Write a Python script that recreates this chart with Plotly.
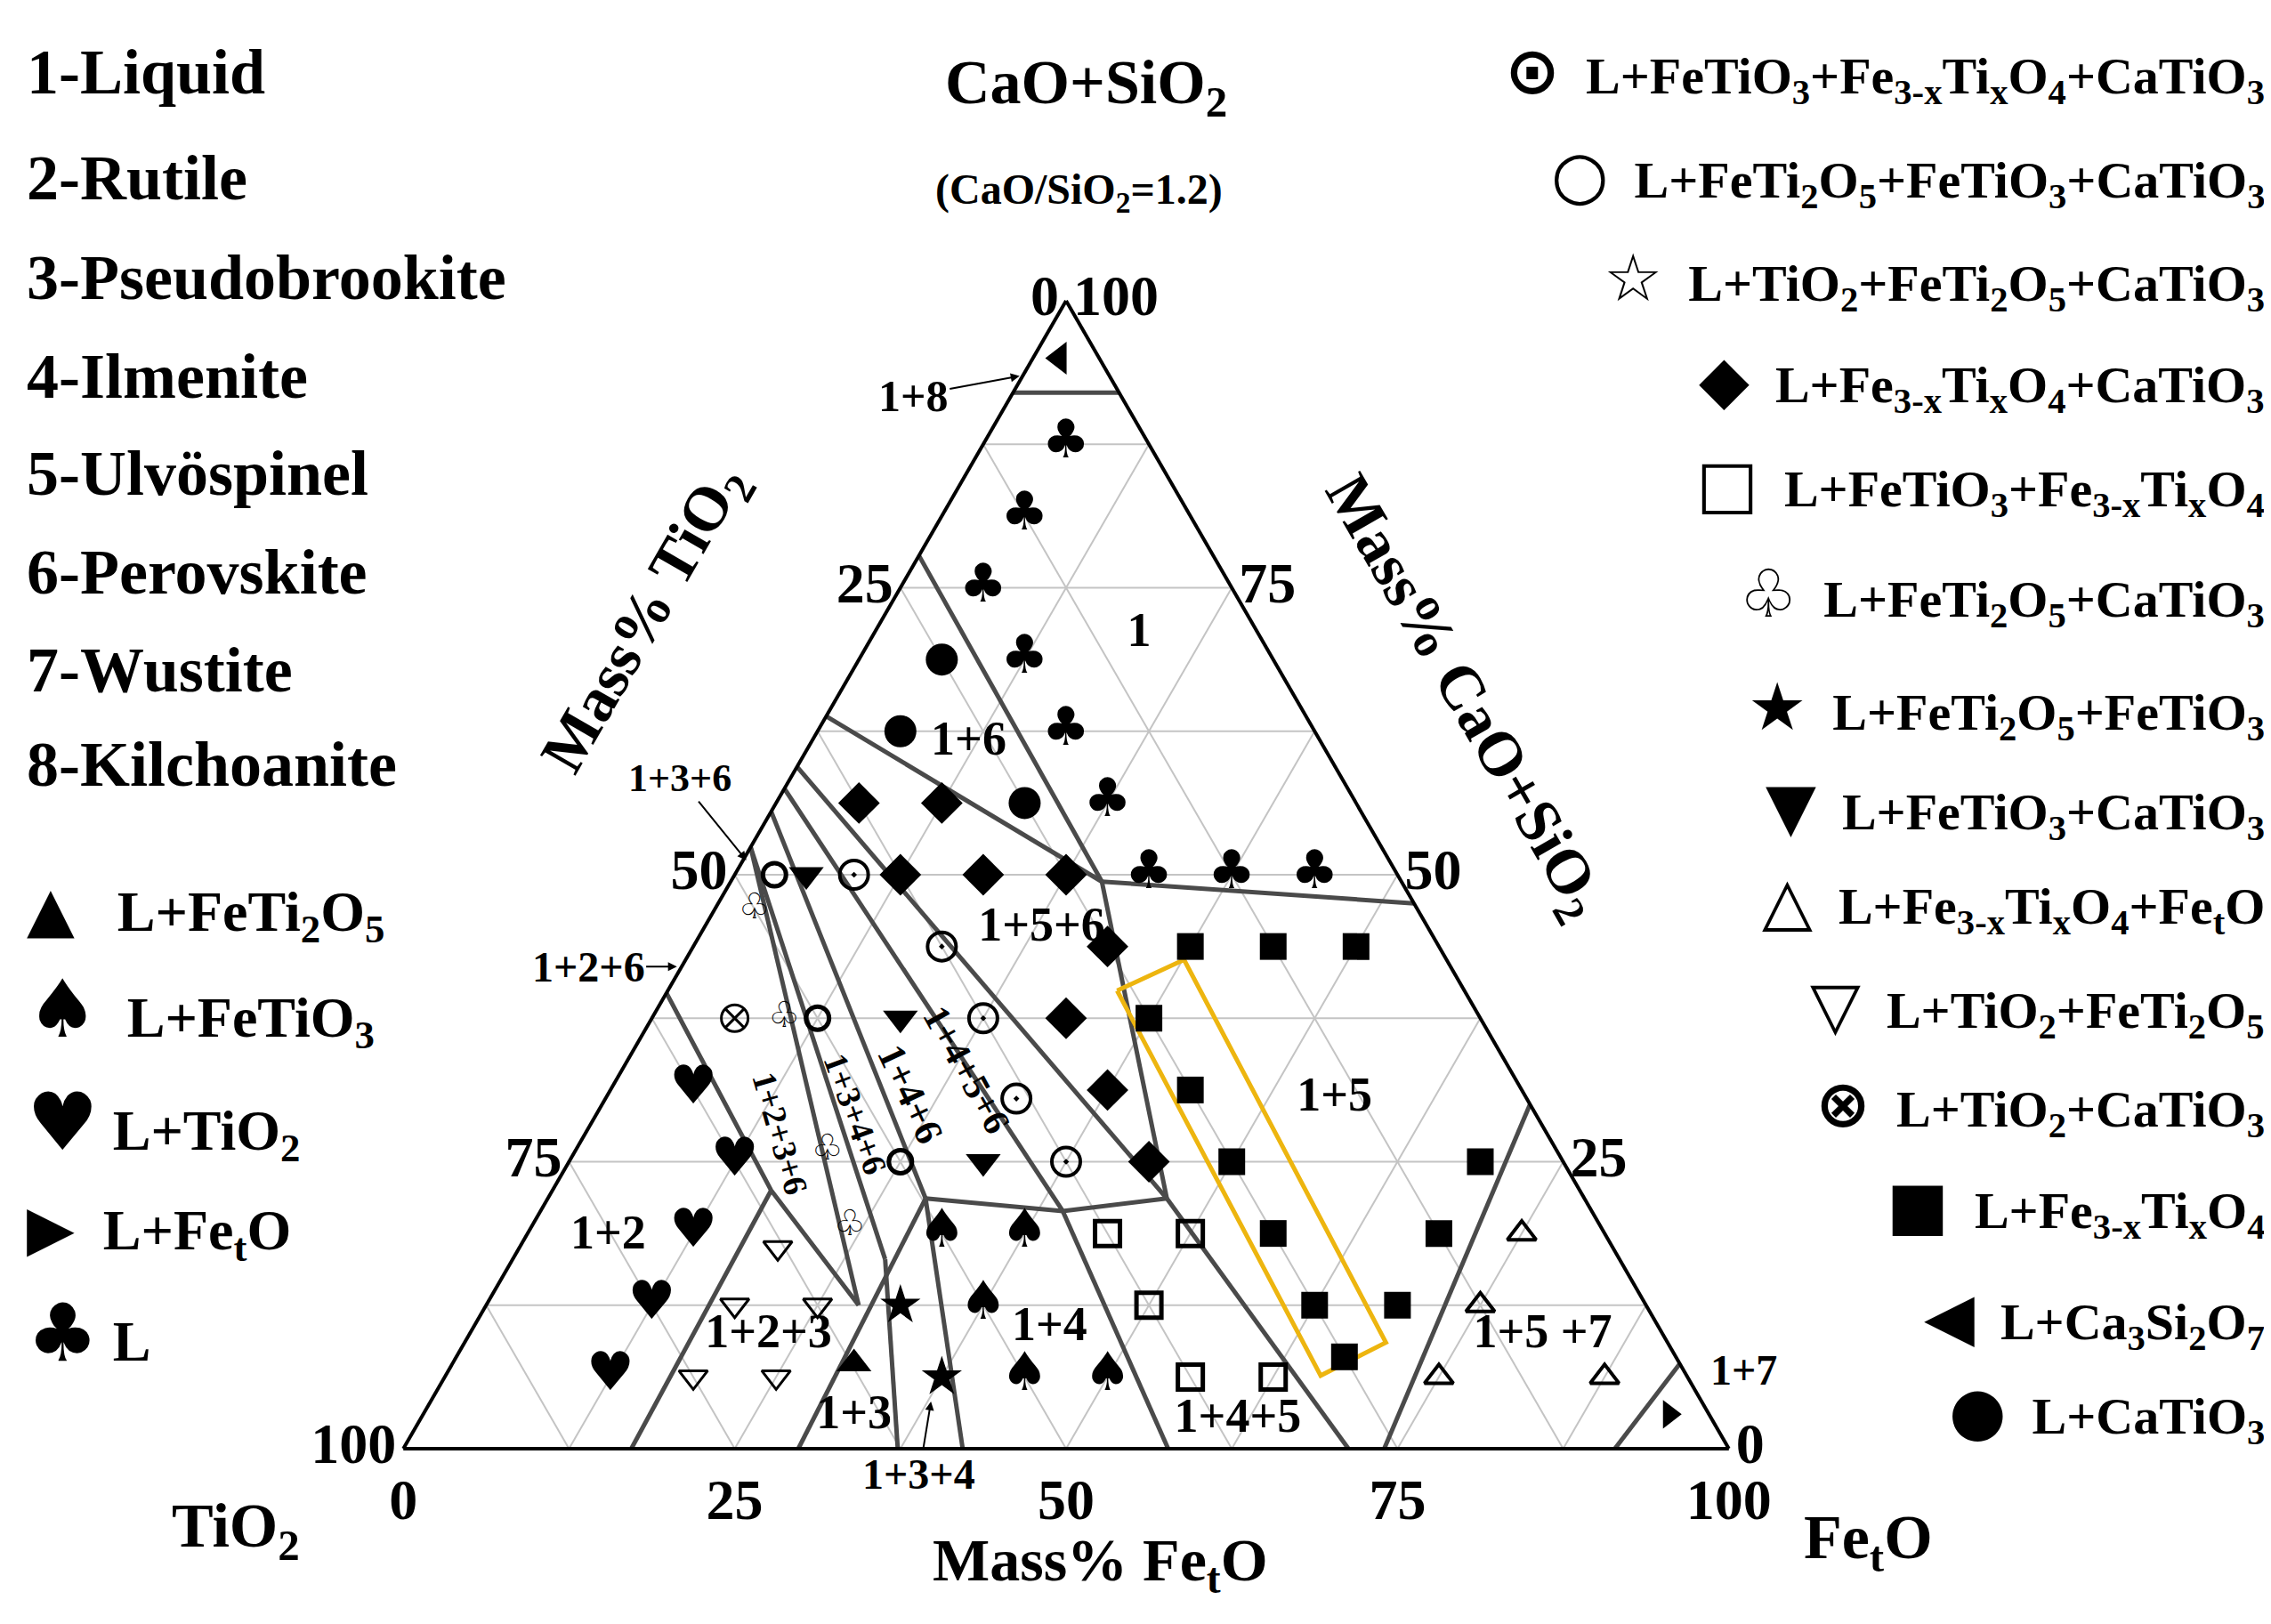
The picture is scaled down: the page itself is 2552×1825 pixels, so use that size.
import plotly.graph_objects as go

# compositions as (CaO+SiO2, TiO2, FetO) mass %
liquid = [(87.5, 6.25, 6.25), (81.25, 12.5, 6.25), (75, 18.75, 6.25), (68.75, 18.75, 12.5),
          (62.5, 18.75, 18.75), (56.25, 18.75, 25), (50, 18.75, 31.25), (50, 12.5, 37.5), (50, 6.25, 43.75)]
l_catio3 = [(68.75, 25, 6.25), (62.5, 31.25, 6.25), (56.25, 25, 18.75)]
l_ca3si2o7 = [(95, 3, 2)]
l_spinel_cati = [(56.25, 37.5, 6.25), (56.25, 31.25, 12.5), (50, 37.5, 12.5), (50, 31.25, 18.75), (50, 25, 25),
                 (43.75, 25, 31.25), (37.5, 31.25, 31.25), (31.25, 31.25, 37.5), (25, 31.25, 43.75)]
l_ilm_spinel_cati = [(50, 41, 9), (43.75, 37.5, 18.75), (37.5, 37.5, 25), (30.5, 38.5, 31), (25, 37.5, 37.5)]
l_pb_ilm_cati = [(50, 47, 3), (37.5, 50, 12.5), (25, 50, 25)]
l_ilm_cati = [(50, 44.6, 5.4), (37.5, 43.75, 18.75), (25, 43.75, 31.25)]
l_rut_cati = [(37.5, 56.25, 6.25)]
l_pb_cati = [(47, 50, 3), (37.5, 52.5, 10), (26, 55, 19), (19.4, 56.6, 24)]
l_rutile = [(31.25, 62.5, 6.25), (25, 62.5, 12.5), (18.75, 68.75, 12.5), (12.5, 75, 12.5), (6.25, 81.25, 12.5)]
l_rut_pb = [(17.5, 63, 19.5), (12.5, 68.75, 18.75), (12.5, 62.5, 25), (6.25, 75, 18.75), (6.25, 68.75, 25)]
l_pb = [(7.4, 62.3, 30.3)]
l_pb_ilm = [(12.5, 56.25, 31.25), (6.25, 56.25, 37.5)]
l_ilm = [(18.75, 50, 31.25), (18.75, 43.75, 37.5), (12.5, 50, 37.5), (6.25, 50, 43.75), (6.25, 43.75, 50)]
l_ilm_spinel = [(18.75, 37.5, 43.75), (18.75, 31.25, 50), (12.5, 37.5, 50), (6.25, 37.5, 56.25), (6.25, 31.25, 62.5)]
l_spinel = [(43.75, 18.75, 37.5), (43.75, 12.5, 43.75), (43.75, 6.25, 50), (37.5, 25, 37.5), (31.25, 25, 43.75),
            (25, 25, 50), (25, 6.25, 68.75), (18.75, 25, 56.25), (18.75, 12.5, 68.75), (12.5, 25, 62.5),
            (12.5, 18.75, 68.75), (8, 25, 67)]
l_spinel_wus = [(18.75, 6.25, 75), (12.5, 12.5, 75), (6.25, 18.75, 75), (6.25, 6.25, 87.5)]
l_wustite = [(3, 3, 94)]

boundaries = [
    [(92, 8, 0), (92, 0, 8)],
    [(77.8, 22.2, 0), (49.4, 22.6, 28)],
    [(49.4, 22.6, 28), (47.5, 0, 52.5)],
    [(63.8, 36.2, 0), (49.4, 22.6, 28)],
    [(49.4, 22.6, 28), (21.8, 31.5, 46.7)],
    [(59.4, 40.6, 0), (21.8, 31.5, 46.7)],
    [(57.5, 42.5, 0), (20.7, 39.9, 39.4)],
    [(55.5, 44.5, 0), (21.8, 49.7, 28.5)],
    [(52.4, 47.6, 0), (16.5, 55.4, 28.1)],
    [(52.4, 47.6, 0), (12.5, 59.4, 28.1)],
    [(39.7, 60.3, 0), (22.5, 61, 16.5), (12.5, 59.4, 28.1)],
    [(21.8, 49.7, 28.5), (20.7, 39.9, 39.4), (21.8, 31.5, 46.7)],
    [(0, 82.8, 17.2), (22.5, 61, 16.5)],
    [(0, 70.2, 29.8), (21.8, 49.7, 28.5)],
    [(0, 62.7, 37.3), (16.5, 55.4, 28.1)],
    [(0, 57.8, 42.2), (21.8, 49.7, 28.5)],
    [(0, 42.3, 57.7), (20.7, 39.9, 39.4)],
    [(0, 28.7, 71.3), (21.8, 31.5, 46.7)],
    [(0, 26, 74), (30, 0, 70)],
    [(0, 8.6, 91.4), (7.4, 0, 92.6)],
]
highlight = [(39.9, 26.2, 33.9), (42.6, 19.8, 37.6), (9.25, 21.25, 69.5), (6.37, 27.6, 66), (39.9, 26.2, 33.9)]

region_names = ["1", "1+6", "1+5+6", "1+5", "1+2", "1+2+3", "1+4", "1+3", "1+4+5", "1+5 +7"]
region_pos = [(71, 9, 20), (61.5, 26.6, 11.9), (45.3, 29.2, 25.5), (30.5, 14.5, 55), (18.5, 75.3, 6.2),
              (9.9, 67.5, 22.6), (10.5, 46, 43.5), (2.8, 64.6, 32.6), (2.5, 35.8, 61.7), (9.9, 9.1, 81)]

SERIF = "Liberation Serif, DejaVu Serif, DejaVu Sans"
SYM = "DejaVu Sans"
S = 2552 / 1568
X0, X1, YB, YT = 445, 1935, 1620, 330   # triangle frame in page pixels


def abc(pts):
    return dict(a=[p[0] for p in pts], b=[p[1] for p in pts], c=[p[2] for p in pts])


def to_paper(x, y, plot=True):
    X, Y = x * S, y * S
    if plot:
        X = X0 + (X - 460) * (X1 - X0) / 1461
        Y = YB - (1620 - Y) * (YB - YT) / 1319
    return X / 2552, 1 - Y / 1825


fig = go.Figure()

la, lb, lc = [], [], []
for seg in boundaries:
    for p in seg:
        la.append(p[0]); lb.append(p[1]); lc.append(p[2])
    la.append(None); lb.append(None); lc.append(None)
fig.add_trace(go.Scatterternary(a=la, b=lb, c=lc, mode="lines", connectgaps=False,
                                line=dict(color="#4a4a4a", width=5), hoverinfo="skip"))
fig.add_trace(go.Scatterternary(**abc(highlight), mode="lines", line=dict(color="#EDB50F", width=5)))

markers = [
    (l_catio3, "circle", 36, 0),
    (l_ca3si2o7, "triangle-left", 32, 0),
    (l_spinel_cati, "diamond", 36, 0),
    (l_ilm_spinel_cati, "circle-open-dot", 32, 4),
    (l_pb_ilm_cati, "circle-open", 26, 5),
    (l_ilm_cati, "triangle-down", 34, 0),
    (l_rut_cati, "circle-x-open", 30, 3),
    (l_rut_pb, "triangle-down-open", 28, 3),
    (l_pb, "triangle-up", 34, 0),
    (l_pb_ilm, "star", 34, 0),
    (l_ilm_spinel, "square-open", 28, 5),
    (l_spinel, "square", 30, 0),
    (l_spinel_wus, "triangle-up-open", 28, 4),
    (l_wustite, "triangle-right", 28, 0),
]
for pts, sym, size, lw in markers:
    fig.add_trace(go.Scatterternary(**abc(pts), mode="markers",
                                    marker=dict(symbol=sym, size=size, color="black",
                                                line=dict(color="black", width=lw))))

glyphs = [(liquid, "♣", 60), (l_rutile, "♥", 60), (l_ilm, "♠", 60), (l_pb_cati, "♧", 40)]
for pts, g, size in glyphs:
    fig.add_trace(go.Scatterternary(**abc(pts), mode="text", text=[g] * len(pts),
                                    textfont=dict(family=SYM, size=size, color="black")))

fig.add_trace(go.Scatterternary(**abc(region_pos), mode="text", text=region_names,
                                textfont=dict(family=SERIF, size=54, color="black", weight="bold")))

grid_vals = [0, 12.5, 25, 37.5, 50, 62.5, 75, 87.5, 100]
grid_text = ["<b>100</b>", "", "<b>75</b>", "", "<b>50</b>", "", "<b>25</b>", "", "<b>0</b>"]
axis_style = dict(tickmode="array", tickvals=grid_vals, ticktext=grid_text, ticks="",
                  tickfont=dict(family=SERIF, size=64, color="black"),
                  linecolor="black", linewidth=4, gridcolor="#c4c4c4", gridwidth=2,
                  showgrid=True, title=dict(text=""))
fig.update_layout(
    width=2552, height=1825, margin=dict(l=0, r=0, t=0, b=0),
    paper_bgcolor="white", showlegend=False,
    ternary=dict(sum=100, bgcolor="white",
                 domain=dict(x=[X0 / 2552, X1 / 2552], y=[1 - YB / 1825, 1 - YT / 1825]),
                 aaxis=axis_style, baxis=axis_style, caxis=axis_style),
)

ann = []


def label(text, x, y, size=58, plot=True, angle=0, xanchor="center"):
    px, py = to_paper(x, y, plot)
    ann.append(dict(text=text, x=px, y=py, xref="paper", yref="paper", xanchor=xanchor,
                    yanchor="middle", textangle=angle, showarrow=False,
                    font=dict(family=SERIF, size=size, color="black", weight="bold")))


def pointer(text, x, y, tx, ty, size=46, plot=True):
    # label at (x, y) with a thin line to (tx, ty)
    px, py = to_paper(tx, ty, plot)
    lx, ly = to_paper(x, y, plot)
    ann.append(dict(text=text, x=px, y=py, xref="paper", yref="paper", showarrow=True,
                    ax=(lx - px) * 2552, ay=-(ly - py) * 1825, arrowhead=2, arrowsize=1,
                    arrowwidth=2, arrowcolor="black",
                    font=dict(family=SERIF, size=size, color="black", weight="bold")))


label("CaO+SiO<sub>2</sub>", 745, 55, 70, plot=False)
label("(CaO/SiO<sub>2</sub>=1.2)", 740, 128, 48, plot=False)
label("TiO<sub>2</sub>", 158, 1052, 70, plot=False)
label("Fe<sub>t</sub>O", 1285, 1060, 70, plot=False)
label("Mass% Fe<sub>t</sub>O", 755, 1075, 68, plot=False)
label("Mass% TiO<sub>2</sub>", 448, 410, 70, angle=-60)
label("Mass% CaO+SiO<sub>2</sub>", 1000, 465, 70, angle=60)

label("1+4+6", 626, 745, 44, angle=65)
label("1+4+5+6", 664, 728, 42, angle=61)
label("1+3+4+6", 589, 759, 38, angle=70)
label("1+2+3+6", 538, 773, 38, angle=74)
pointer("1+8", 628, 252, 700, 238, 50)
pointer("1+3+6", 470, 522, 515, 580, 44)
pointer("1+2+6", 408, 655, 468, 655, 48)
pointer("1+3+4", 632, 1013, 640, 962, 48)
pointer("1+7", 1190, 940, 1168, 948, 48)

left_names = ["1-Liquid", "2-Rutile", "3-Pseudobrookite", "4-Ilmenite", "5-Ulvöspinel",
              "6-Perovskite", "7-Wustite", "8-Kilchoanite"]
left_y = [45, 118, 187, 255, 322, 390, 458, 523]
for t, y in zip(left_names, left_y):
    label(t, 12, y, 72, plot=False, xanchor="left")


def sym(g, size=80):
    return f'<span style="font-family:DejaVu Sans;font-size:{size}px">{g}</span>'


left_leg = [(sym("▲", 70), "   L+FeTi<sub>2</sub>O<sub>5</sub>"), (sym("♠", 90), "  L+FeTiO<sub>3</sub>"),
            (sym("♥", 90), " L+TiO<sub>2</sub>"), (sym("▶", 70), "  L+Fe<sub>t</sub>O"),
            (sym("♣", 90), " L")]
left_leg_y = [625, 692, 770, 845, 915]
for (g, t), y in zip(left_leg, left_leg_y):
    label(g + t, 12, y, 64, plot=False, xanchor="left")

right_leg = [
    ("⊙", "L+FeTiO<sub>3</sub>+Fe<sub>3-x</sub>Ti<sub>x</sub>O<sub>4</sub>+CaTiO<sub>3</sub>"),
    ("○", "L+FeTi<sub>2</sub>O<sub>5</sub>+FeTiO<sub>3</sub>+CaTiO<sub>3</sub>"),
    ("☆", "L+TiO<sub>2</sub>+FeTi<sub>2</sub>O<sub>5</sub>+CaTiO<sub>3</sub>"),
    ("◆", "L+Fe<sub>3-x</sub>Ti<sub>x</sub>O<sub>4</sub>+CaTiO<sub>3</sub>"),
    ("□", "L+FeTiO<sub>3</sub>+Fe<sub>3-x</sub>Ti<sub>x</sub>O<sub>4</sub>"),
    ("♧", "L+FeTi<sub>2</sub>O<sub>5</sub>+CaTiO<sub>3</sub>"),
    ("★", "L+FeTi<sub>2</sub>O<sub>5</sub>+FeTiO<sub>3</sub>"),
    ("▼", "L+FeTiO<sub>3</sub>+CaTiO<sub>3</sub>"),
    ("△", "L+Fe<sub>3-x</sub>Ti<sub>x</sub>O<sub>4</sub>+Fe<sub>t</sub>O"),
    ("▽", "L+TiO<sub>2</sub>+FeTi<sub>2</sub>O<sub>5</sub>"),
    ("⊗", "L+TiO<sub>2</sub>+CaTiO<sub>3</sub>"),
    ("■", "L+Fe<sub>3-x</sub>Ti<sub>x</sub>O<sub>4</sub>"),
    ("◀", "L+Ca<sub>3</sub>Si<sub>2</sub>O<sub>7</sub>"),
    ("●", "L+CaTiO<sub>3</sub>"),
]
right_leg_y = [45, 117, 188, 258, 330, 406, 484, 553, 618, 690, 758, 828, 905, 970]
for (g, t), y in zip(right_leg, right_leg_y):
    label(sym(g, 74) + "  " + t, 1560, y, 58, plot=False, xanchor="right")

fig.update_layout(annotations=ann)
fig.write_html("out.html")
